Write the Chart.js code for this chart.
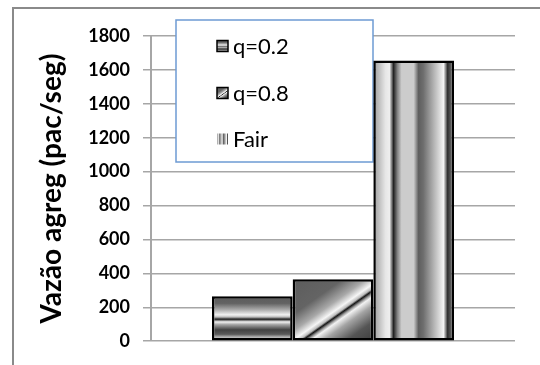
<!DOCTYPE html>
<html>
<head>
<meta charset="utf-8">
<script src="https://cdn.jsdelivr.net/npm/chart.js@4.4.1/dist/chart.umd.min.js"></script>
<style>
  html, body { margin: 0; padding: 0; background: #ffffff; }
  #wrap { position: relative; width: 540px; height: 365px; }
  canvas { display: block; }
</style>
</head>
<body>
<div id="wrap"><canvas id="chart" width="540" height="365"></canvas></div>
<script>
// Aggregate throughput per scheduling scheme
const categories = [''];
const seriesLabels = ['q=0.2', 'q=0.8', 'Fair'];
const q02Values = [265];
const q08Values = [365];
const fairValues = [1655];
const yTickValues = [0, 200, 400, 600, 800, 1000, 1200, 1400, 1600, 1800];
const yTitle = 'Vazão agreg (pac/seg)';

// Grey fill effects, one per series
function addStops(g, stops) {
  stops.forEach(s => g.addColorStop(s[0], s[1]));
  return g;
}
const fills = [
  // horizontal bands
  (ctx, l, t, r, b) => addStops(ctx.createLinearGradient(0, t, 0, b), [
    [0.00, '#5c5c5c'], [0.16, '#626262'], [0.30, '#a8a8a8'], [0.42, '#f2f2f2'],
    [0.47, '#bdbdbd'], [0.52, '#1e1e1e'], [0.58, '#f4f4f4'], [0.64, '#a6a6a6'],
    [0.76, '#424242'], [0.86, '#5a5a5a'], [0.93, '#bcbcbc'], [1.00, '#474747']
  ]),
  // diagonal stripes
  (ctx, l, t, r, b) => {
    const dx = 0.577, dy = 0.816;
    const L = (r - l) * dx + (b - t) * dy;
    return addStops(ctx.createLinearGradient(l, t, l + dx * L, t + dy * L), [
      [0.00, '#5c5c5c'], [0.30, '#646464'], [0.44, '#a8a8a8'], [0.52, '#f6f6f6'],
      [0.555, '#bbbbbb'], [0.575, '#151515'], [0.60, '#9a9a9a'], [0.625, '#f2f2f2'],
      [0.70, '#a4a4a4'], [0.84, '#555555'], [1.00, '#3e3e3e']
    ]);
  },
  // vertical stripes
  (ctx, l, t, r, b) => addStops(ctx.createLinearGradient(l, 0, r, 0), [
    [0.00, '#9c9c9c'], [0.15, '#e6e6e6'], [0.20, '#eeeeee'], [0.25, '#222222'],
    [0.30, '#858585'], [0.35, '#cccccc'], [0.50, '#cccccc'], [0.56, '#5e5e5e'],
    [0.62, '#6e6e6e'], [0.87, '#f4f4f4'], [0.92, '#2e2e2e'], [1.00, '#858585']
  ])
];

const fillPlugin = {
  id: 'barFills',
  beforeDatasetsDraw(chart) {
    const ctx = chart.ctx;
    chart.data.datasets.forEach((ds, i) => {
      const meta = chart.getDatasetMeta(i);
      meta.data.forEach(el => {
        const l = el.x - el.width / 2, r = el.x + el.width / 2;
        const t = Math.min(el.y, el.base), b = Math.max(el.y, el.base);
        el.options.backgroundColor = fills[i](ctx, l, t, r, b);
      });
    });
  }
};

// Boxed legend sitting over the upper plot area
const legendBox = { left: 176, top: 20, right: 373, bottom: 162 };
const legendRows = [46, 93, 139];
const legendPlugin = {
  id: 'boxLegend',
  beforeDatasetsDraw(chart) {
    const ctx = chart.ctx;
    ctx.save();
    ctx.fillStyle = '#ffffff';
    ctx.fillRect(legendBox.left, legendBox.top, legendBox.right - legendBox.left, legendBox.bottom - legendBox.top);
    ctx.strokeStyle = '#6d9bd3';
    ctx.lineWidth = 1.5;
    ctx.strokeRect(legendBox.left, legendBox.top, legendBox.right - legendBox.left, legendBox.bottom - legendBox.top);
    ctx.font = '22px Lato';
    ctx.textBaseline = 'middle';
    ctx.textAlign = 'left';
    chart.data.datasets.forEach((ds, i) => {
      const cy = legendRows[i];
      const l = 217, t = cy - 5.5, r = 228, b = cy + 5.5;
      ctx.fillStyle = fills[i](ctx, l, t, r, b);
      ctx.fillRect(l, t, r - l, b - t);
      if (i < 2) {
        ctx.strokeStyle = '#000000';
        ctx.lineWidth = 1.5;
        ctx.strokeRect(l, t, r - l, b - t);
      }
      ctx.fillStyle = '#000000';
      ctx.fillText(ds.label, 233, cy + 1);
    });
    ctx.restore();
  }
};

// Outer frame (left and top edges)
const framePlugin = {
  id: 'frame',
  beforeDraw(chart) {
    const ctx = chart.ctx;
    ctx.save();
    ctx.fillStyle = '#ffffff';
    ctx.fillRect(0, 0, chart.width, chart.height);
    ctx.strokeStyle = '#8a8a8a';
    ctx.lineWidth = 2;
    ctx.beginPath();
    ctx.moveTo(13, 365);
    ctx.lineTo(13, 8);
    ctx.lineTo(540, 8);
    ctx.stroke();
    ctx.restore();
  }
};

const barStyle = { borderColor: '#000000', borderWidth: 2.5, borderSkipped: false };

new Chart(document.getElementById('chart'), {
  type: 'bar',
  data: {
    labels: categories,
    datasets: [
      Object.assign({ label: seriesLabels[0], data: q02Values }, barStyle),
      Object.assign({ label: seriesLabels[1], data: q08Values }, barStyle),
      Object.assign({ label: seriesLabels[2], data: fairValues }, barStyle)
    ]
  },
  options: {
    responsive: false,
    animation: false,
    events: [],
    layout: { padding: { left: 35, right: 25, top: 36, bottom: 23 } },
    datasets: { bar: { categoryPercentage: 0.665, barPercentage: 1.0 } },
    plugins: { legend: { display: false }, tooltip: { enabled: false } },
    scales: {
      x: { display: false },
      y: {
        min: 0,
        max: 1800,
        afterBuildTicks(scale) { scale.ticks = yTickValues.map(v => ({ value: v })); },
        afterFit(scale) { scale.width = 151 - 35; },
        ticks: {
          padding: 13,
          color: '#000000',
          font: { family: 'Lato', size: 18, weight: 'bold' },
          callback: v => String(v)
        },
        grid: { color: '#a6a6a6', lineWidth: 1.5, tickLength: 8 },
        border: { display: true, color: '#a6a6a6', width: 2 },
        title: {
          display: true,
          text: yTitle,
          color: '#000000',
          padding: { top: 0, bottom: 0 },
          font: { family: 'Lato', size: 28, weight: 'bold' }
        }
      }
    }
  },
  plugins: [framePlugin, fillPlugin, legendPlugin]
});
</script>
</body>
</html>
